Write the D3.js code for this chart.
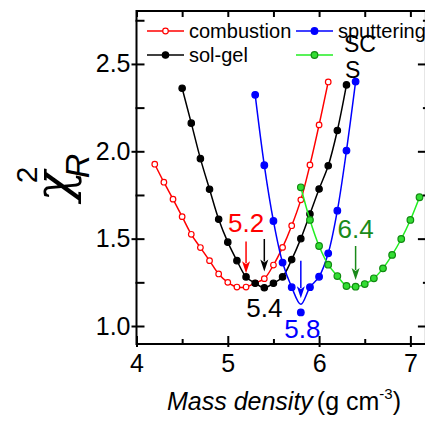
<!DOCTYPE html>
<html><head><meta charset="utf-8">
<script src="https://cdn.jsdelivr.net/npm/d3@7"></script>
<style>
body{margin:0;background:#fff}
svg{display:block}
text{font-family:"Liberation Sans",Arial,Helvetica,sans-serif}
</style>
</head><body><script>
// Reduced chi-square versus assumed mass density for four deposition routes
const combustionDensity = [4.2,4.3,4.4,4.5,4.6,4.7,4.8,4.9,5.0,5.1,5.2,5.3,5.4,5.5,5.6,5.7,5.8,5.9,6.0,6.1];
const combustionChi = [1.926,1.823,1.726,1.626,1.525,1.449,1.374,1.298,1.250,1.223,1.223,1.246,1.271,1.349,1.450,1.574,1.722,1.922,2.151,2.397];

const solgelDensity = [4.5,4.6,4.7,4.8,4.9,5.0,5.1,5.2,5.3,5.4,5.5,5.6,5.7,5.8,5.9,6.0,6.1,6.2,6.3];
const solgelChi = [2.361,2.161,1.958,1.783,1.611,1.480,1.374,1.281,1.245,1.219,1.245,1.281,1.380,1.500,1.641,1.784,1.917,2.119,2.380];

const sputterDensity = [5.3,5.4,5.5,5.6,5.7,5.8,5.9,6.0,6.1,6.2,6.3,6.4];
const sputterChi = [2.323,1.920,1.601,1.363,1.222,1.078,1.222,1.282,1.416,1.660,2.004,2.399];
const sputterFitChi = [2.323,1.920,1.601,1.363,1.222,1.124,1.222,1.282,1.416,1.660,2.004,2.399];

const scsDensity = [5.8,5.9,6.0,6.1,6.2,6.3,6.4,6.5,6.6,6.7,6.8,6.9,7.0,7.1];
const scsChi = [1.794,1.607,1.458,1.351,1.286,1.229,1.225,1.240,1.273,1.330,1.407,1.498,1.607,1.737];

const xMajorTicks = [4,5,6,7];
const xMinorTicks = [4.5,5.5,6.5];
const yMajorTicks = [1.0,1.5,2.0,2.5];
const yMinorTicks = [1.25,1.75,2.25,2.75];

// best-density markers: value, arrow top, arrow tip, label baseline (chi-square units)
const optima = [
  {name:"combustion", value:5.2, top:1.483, tip:1.302, labelY:1.538, dx:0,  color:"#ff0000"},
  {name:"sol-gel",    value:5.4, top:1.498, tip:1.312, labelY:1.053, dx:0,  color:"#000000"},
  {name:"sputtering", value:5.8, top:1.374, tip:1.159, labelY:0.931, dx:1.5,color:"#0000ff"},
  {name:"SCS",        value:6.4, top:1.458, tip:1.263, labelY:1.504, dx:0,  color:"#1a8a1a"}
];

const W = 425, H = 422;
const x = d3.scaleLinear().domain([4, 7.17]).range([136.5, 425.9]);
const y = d3.scaleLinear().domain([0.897, 2.803]).range([344, 11]);

const svg = d3.select("body").append("svg").attr("width", W).attr("height", H);

svg.append("clipPath").attr("id","plotclip").append("rect")
  .attr("x", x.range()[0]).attr("y", y.range()[1])
  .attr("width", x.range()[1]-x.range()[0]).attr("height", y.range()[0]-y.range()[1]);

const series = [
  {label:"combustion", xs:combustionDensity, ys:combustionChi, line:combustionChi, stroke:"#ff0000", fill:"#ffffff", mstroke:"#ff0000", r:2.8},
  {label:"sol-gel",    xs:solgelDensity,     ys:solgelChi,     line:solgelChi,     stroke:"#000000", fill:"#000000", mstroke:"#000000", r:3.2},
  {label:"sputtering", xs:sputterDensity,    ys:sputterChi,    line:sputterFitChi, stroke:"#0000ff", fill:"#0000ff", mstroke:"#0000ff", r:3.3},
  {label:"",           xs:scsDensity,        ys:scsChi,        line:scsChi,        stroke:"#22ee22", fill:"#33dd33", mstroke:"#118a11", r:3.3}
];

const gData = svg.append("g").attr("clip-path","url(#plotclip)");
const lineGen = d3.line().x(d => x(d[0])).y(d => y(d[1])).curve(d3.curveCatmullRom.alpha(0.5));

series.forEach(s => {
  const g = gData.append("g");
  g.append("path")
    .datum(s.xs.map((v,i) => [v, s.line[i]]))
    .attr("d", lineGen)
    .attr("fill","none").attr("stroke", s.stroke).attr("stroke-width", 1.5);
  g.selectAll("circle").data(s.xs.map((v,i) => [v, s.ys[i]])).join("circle")
    .attr("cx", d => x(d[0])).attr("cy", d => y(d[1])).attr("r", s.r)
    .attr("fill", s.fill).attr("stroke", s.mstroke).attr("stroke-width", 1.2);
});

// arrows and labels at the minima
optima.forEach(o => {
  const ax = x(o.value), yt = y(o.top), yp = y(o.tip), head = 12, hw = 4;
  svg.append("line").attr("x1", ax).attr("x2", ax).attr("y1", yt).attr("y2", yp - head + 2)
    .attr("stroke", o.color).attr("stroke-width", 1.5);
  svg.append("path")
    .attr("d", `M${ax},${yp} L${ax-hw},${yp-head} L${ax},${yp-head+3} L${ax+hw},${yp-head} Z`)
    .attr("fill", o.color);
  svg.append("text").attr("x", ax + o.dx).attr("y", y(o.labelY))
    .attr("text-anchor","middle").attr("font-size", 26).attr("fill", o.color)
    .text(d3.format(".1f")(o.value));
});

// axes
const axisG = svg.append("g");
function styleAxis(g){
  g.select(".domain").remove();
  g.selectAll("line").attr("stroke","#000").attr("stroke-width",2);
  g.selectAll("text").attr("font-size", 25).attr("fill","#000").style("font-family",'"Liberation Sans",Arial,sans-serif');
}
// bottom
axisG.append("g").attr("transform",`translate(0,${y.range()[0]})`)
  .call(d3.axisBottom(x).tickValues(xMajorTicks).tickFormat(d3.format("d")).tickSizeInner(-8).tickSizeOuter(0).tickPadding(10))
  .call(styleAxis)
  .call(g => g.selectAll(".tick line").attr("y1", 3));
axisG.append("g").attr("transform",`translate(0,${y.range()[0]})`)
  .call(d3.axisBottom(x).tickValues(xMinorTicks).tickFormat("").tickSizeInner(-5).tickSizeOuter(0))
  .call(styleAxis);
// top
axisG.append("g").attr("transform",`translate(0,${y.range()[1]})`)
  .call(d3.axisTop(x).tickValues(xMajorTicks.concat(xMinorTicks)).tickFormat("").tickSizeInner(-6).tickSizeOuter(0))
  .call(styleAxis);
// left
axisG.append("g").attr("transform",`translate(${x.range()[0]},0)`)
  .call(d3.axisLeft(y).tickValues(yMajorTicks).tickFormat(d3.format(".1f")).tickSizeInner(-8).tickSizeOuter(0).tickPadding(7))
  .call(styleAxis)
  .call(g => g.selectAll(".tick line").attr("x1", -5))
  .call(g => g.selectAll(".tick text").attr("x", -6));
axisG.append("g").attr("transform",`translate(${x.range()[0]},0)`)
  .call(d3.axisLeft(y).tickValues(yMinorTicks).tickFormat("").tickSizeInner(-8).tickSizeOuter(0))
  .call(styleAxis)
  .call(g => g.selectAll(".tick line").attr("x1", -1));
// right
axisG.append("g").attr("transform",`translate(${x.range()[1]},0)`)
  .call(d3.axisRight(y).tickValues(yMajorTicks).tickFormat("").tickSizeInner(-8).tickSizeOuter(0))
  .call(styleAxis);
axisG.append("g").attr("transform",`translate(${x.range()[1]},0)`)
  .call(d3.axisRight(y).tickValues(yMinorTicks).tickFormat("").tickSizeInner(-3).tickSizeOuter(0))
  .call(styleAxis);

// frame
svg.append("rect")
  .attr("x", x.range()[0]).attr("y", y.range()[1])
  .attr("width", x.range()[1]-x.range()[0]).attr("height", y.range()[0]-y.range()[1])
  .attr("fill","none").attr("stroke","#000").attr("stroke-width",2);

// legend
const legend = [
  {label:"combustion", s:series[0], lx:147, ly:31},
  {label:"sol-gel",    s:series[1], lx:147, ly:55},
  {label:"sputtering", s:series[2], lx:296, ly:31},
  {label:"",           s:series[3], lx:296, ly:55}
];
legend.forEach(l => {
  const g = svg.append("g");
  g.append("line").attr("x1", l.lx).attr("x2", l.lx+37).attr("y1", l.ly).attr("y2", l.ly)
    .attr("stroke", l.s.stroke).attr("stroke-width", 1.5);
  g.append("circle").attr("cx", l.lx+18.5).attr("cy", l.ly).attr("r", l.s.r)
    .attr("fill", l.s.fill).attr("stroke", l.s.mstroke).attr("stroke-width", 1.2);
  g.append("text").attr("x", l.lx+42).attr("y", l.ly+7).attr("font-size", 20).attr("fill","#000").text(l.label);
});
svg.append("text").attr("x", 344).attr("y", 52).attr("font-size", 23).text("SC");
svg.append("text").attr("x", 345).attr("y", 78).attr("font-size", 23).text("S");

// x axis title
const xt = svg.append("text").attr("x", 284).attr("y", 410).attr("text-anchor","middle").attr("font-size", 25);
xt.append("tspan").attr("font-style","italic").text("Mass density");
xt.append("tspan").attr("dx", -3).text(" (g cm");
xt.append("tspan").attr("font-size", 15).attr("dy", -11).text("-3");
xt.append("tspan").attr("dy", 11).text(")");

// y axis title: reduced chi-square
svg.append("text").attr("transform","translate(70,186) rotate(-90)")
  .attr("text-anchor","middle").attr("font-size", 50).attr("font-style","italic")
  .style("font-family",'"DejaVu Serif",serif').text("χ");
svg.append("text").attr("transform","translate(37,175) rotate(-90)")
  .attr("text-anchor","middle").attr("font-size", 30).text("2");
svg.append("text").attr("transform","translate(89,166) rotate(-90)")
  .attr("text-anchor","middle").attr("font-size", 34).attr("font-style","italic").text("R");
</script></body></html>
